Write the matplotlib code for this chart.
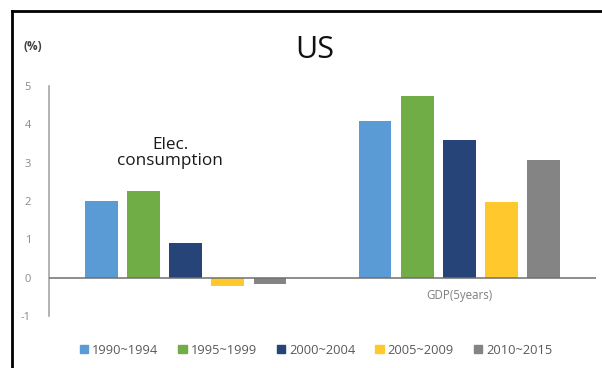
import numpy as np
import matplotlib
matplotlib.use("Agg")
import matplotlib.pyplot as plt
from matplotlib.lines import Line2D
from matplotlib.patches import Patch

plt.rcParams['font.family'] = ['Open Sans', 'DejaVu Sans']
plt.rcParams['axes.unicode_minus'] = False

# growth rates (%) by period
periods = ['1990~1994', '1995~1999', '2000~2004', '2005~2009', '2010~2015']
colors = ['#5B9BD5', '#70AD47', '#264478', '#FFC92E', '#848484']
groups = ['Elec. consumption', 'GDP(5years)']
elec = [2.0, 2.27, 0.9, -0.21, -0.17]
gdp = [4.09, 4.74, 3.6, 1.97, 3.06]

fig = plt.figure(figsize=(6.02, 3.68), dpi=100)
ax = fig.add_axes([0.0814, 0.1413, 0.9086, 0.625])

x = np.arange(len(groups))
width = 0.12
step = 0.154
for i, p in enumerate(periods):
    vals = [elec[i], gdp[i]]
    ax.bar(x + (i - 2) * step, vals, width, color=colors[i], label=p, zorder=2)

ax.set_xlim(-0.5, 1.5)
ax.set_ylim(-1, 5)
ax.set_yticks([-1, 0, 1, 2, 3, 4, 5])
ax.tick_params(axis='y', length=0, labelsize=8, labelcolor='#8a8a8a', pad=13)
ax.set_xticks([])
for s in ['top', 'right', 'bottom']:
    ax.spines[s].set_visible(False)
ax.spines['left'].set_color('#a6a6a6')
ax.spines['left'].set_linewidth(1.2)
ax.axhline(0, color='#6f6f6f', lw=1.1, zorder=3)

# category labels
ax.text(1, -0.47, groups[1], ha='center', va='center', fontsize=8.3, color='#7f7f7f')
fig.text(170 / 602, 1 - 153 / 368, 'Elec.\nconsumption', ha='center', va='center',
         fontsize=12.3, color='#1a1a1a', linespacing=1.05)

fig.text(315 / 602, 1 - 50 / 368, 'US', ha='center', va='center', fontsize=22, color='#111111')
fig.text(33 / 602, 1 - 47 / 368, '(%)', ha='center', va='center', fontsize=8.5,
         color='#404040', fontweight='bold')

handles = [Patch(color=c) for c in colors]
fig.legend(handles, periods, loc='center', bbox_to_anchor=(316 / 602, 1 - 350 / 368),
           ncol=5, frameon=False, fontsize=9.3, labelcolor='#595959',
           handlelength=0.65, handleheight=0.65, handletextpad=0.3, columnspacing=1.55)

# outer frame
fig.add_artist(Line2D([12 / 602, 12 / 602], [0, 1 - 11 / 368], color='black', lw=2,
                      transform=fig.transFigure))
fig.add_artist(Line2D([12 / 602, 1], [1 - 11 / 368, 1 - 11 / 368], color='black', lw=2,
                      transform=fig.transFigure))

fig.savefig('out.png', dpi=100)
